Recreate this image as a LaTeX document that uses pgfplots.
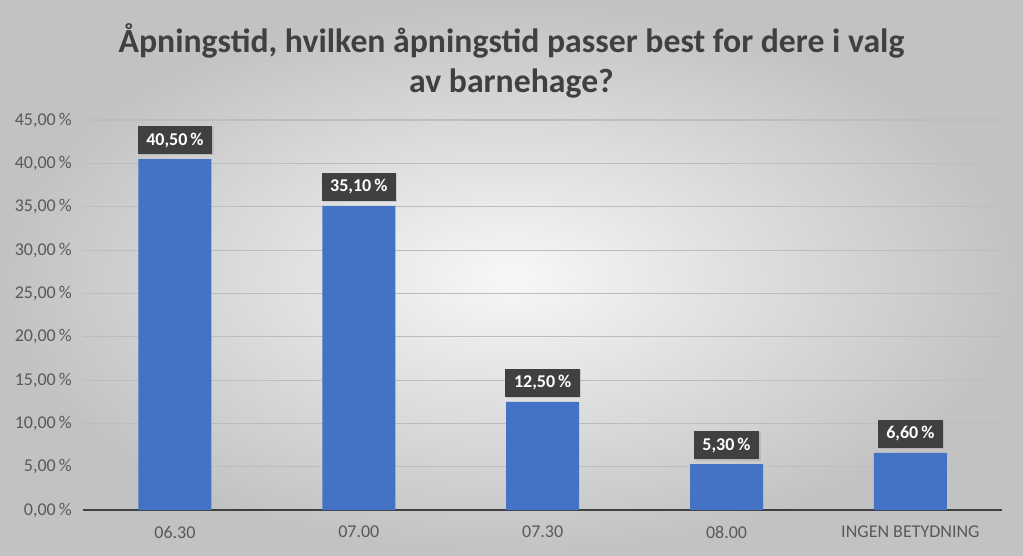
\documentclass[border=0pt]{standalone}
\usepackage{pgfplots}
\pgfplotsset{compat=1.18}
\usepackage{fontspec}
\setmainfont{Carlito}
\usetikzlibrary{shadows}
\definecolor{barblue}{HTML}{4472C4}
\definecolor{txtgray}{HTML}{595959}
\definecolor{labelbg}{HTML}{404040}
\definecolor{gridgray}{HTML}{BDBDBD}
\begin{document}
\begin{tikzpicture}
% chart area background (image is 1023x555 px, 1 px = 0.75 pt)
\shade[inner color=black!3, outer color=black!24] (-62.25pt,-33.75pt) rectangle (704.75pt,382.5pt);
\begin{axis}[
    at={(0,0)}, anchor=south west,
    scale only axis,
    width=689.25pt, height=292.5pt,
    xmin=-0.5, xmax=4.5,
    ymin=0, ymax=45,
    ybar, bar width=54.75pt,
    axis x line*=bottom, axis y line*=left,
    y axis line style={draw=none},
    x axis line style={draw=labelbg, line width=1.5pt},
    ytick={0,5,...,45},
    ymajorgrids,
    grid style={gridgray, line width=0.8pt},
    major y tick style={draw=none},
    /pgf/number format/assume math mode=true,
    yticklabel={\pgfmathprintnumber[fixed,fixed zerofill,precision=2,use comma]{\tick}\,\%},
    yticklabel style={font=\fontsize{13.5}{16}\selectfont, text=txtgray, xshift=-5pt},
    xtick={0,...,4},
    xticklabels={06.30,07.00,07.30,08.00,INGEN BETYDNING},
    xticklabel style={font=\fontsize{13.5}{16}\selectfont, text=txtgray, yshift=-4pt},
    major x tick style={draw=none},
    extra x ticks={-0.5,0.5,1.5,2.5,3.5,4.5},
    extra x tick labels={},
    extra x tick style={grid=none, tick align=outside, major tick length=4.5pt,
        tick style={draw=labelbg, line width=1.2pt}},
    nodes near coords={\pgfmathprintnumber[fixed,fixed zerofill,precision=2,use comma]{\pgfplotspointmeta}\,\%},
    every node near coord/.append style={
        fill=labelbg, text=white, anchor=south,
        font=\bfseries\fontsize{13.5}{16}\selectfont,
        inner xsep=6.5pt, inner ysep=5pt, yshift=3.5pt,
        drop shadow={opacity=0.25, shadow xshift=1pt, shadow yshift=-1pt}},
]
\addplot[fill=barblue, draw=none] coordinates {
    (0,40.5) (1,35.1) (2,12.5) (3,5.3) (4,6.6)
};
\end{axis}
\node[align=center, text=labelbg, font=\bfseries\fontsize{25.3}{30}\selectfont]
    at (321.25pt,337pt) {Åpningstid, hvilken åpningstid passer best for dere i valg\\av barnehage?};
\end{tikzpicture}
\end{document}
